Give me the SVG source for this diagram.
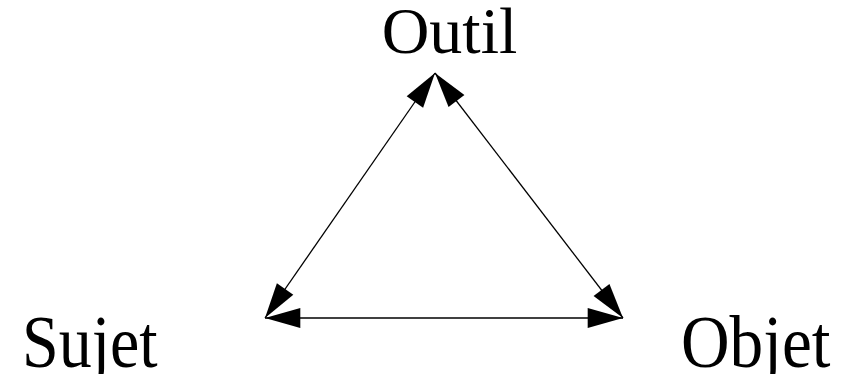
<svg xmlns="http://www.w3.org/2000/svg" width="841" height="374" viewBox="0 0 841 374">
<defs>
<style>
.lbl{font-family:"Liberation Serif","Times New Roman",serif;font-size:66px;fill:#000}
.edge{stroke:#000;stroke-width:1.3;fill:none;marker-start:url(#ah);marker-end:url(#ah)}
</style>
<marker id="ah" markerUnits="userSpaceOnUse" markerWidth="40" markerHeight="30" viewBox="-32 -10 34 20" refX="0" refY="0" orient="auto-start-reverse">
<path d="M0,0 L-30,-8.5 L-30,8.5 Z" fill="#000"/>
</marker>
</defs>
<rect width="841" height="374" fill="#fff"/>
<g id="connectors">
<line class="edge" x1="265" y1="318" x2="435" y2="73"/>
<line class="edge" x1="435" y1="73" x2="623" y2="318"/>
<line class="edge" x1="265" y1="318" x2="623" y2="318"/>
</g>
<g id="outil"><text class="lbl" x="449.5" y="53" text-anchor="middle">Outil</text></g>
<g id="sujet"><text class="lbl" transform="translate(22,367) scale(1,1.13)">Sujet</text></g>
<g id="objet"><text class="lbl" transform="translate(681,367) scale(1.02,1.13)">Objet</text></g>
</svg>
